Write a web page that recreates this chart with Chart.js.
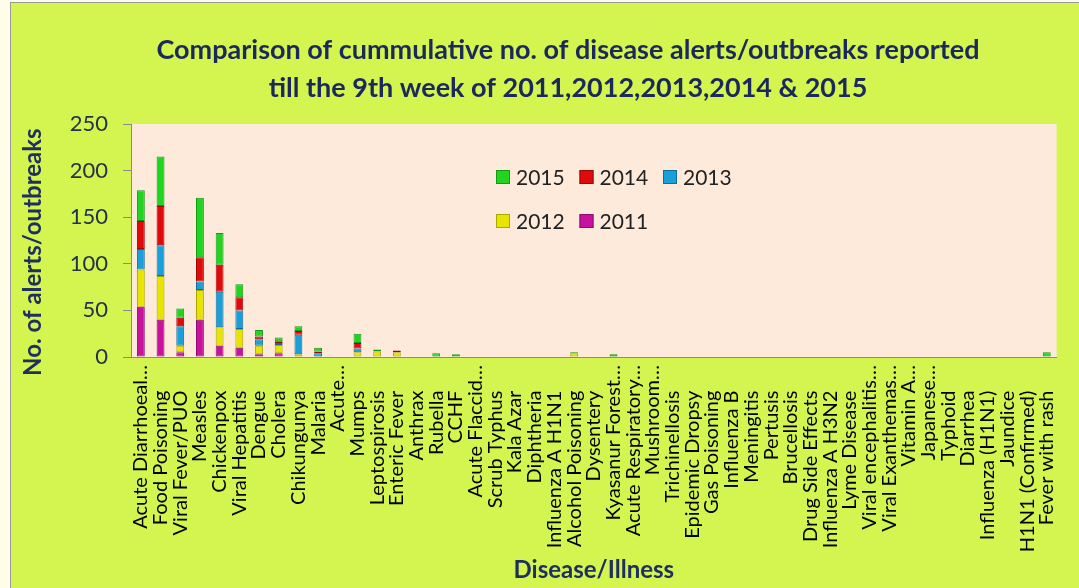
<!DOCTYPE html>
<html>
<head>
<meta charset="utf-8">
<script src="https://cdn.jsdelivr.net/npm/chart.js@4.4.1/dist/chart.umd.min.js"></script>
<style>
html,body{margin:0;padding:0;background:#fffde9;}
#wrap{width:1079px;height:588px;}
</style>
</head>
<body>
<div id="wrap"><canvas id="c" width="1079" height="588"></canvas></div>
<script>
const categories = [
  'Acute Diarrhoeal…','Food Poisoning','Viral Fever/PUO','Measles','Chickenpox','Viral Hepatitis',
  'Dengue','Cholera','Chikungunya','Malaria','Acute…','Mumps','Leptospirosis','Enteric Fever',
  'Anthrax','Rubella','CCHF','Acute Flaccid…','Scrub Typhus','Kala Azar','Diphtheria',
  'Influenza A H1N1','Alcohol Poisoning','Dysentery','Kyasanur Forest…','Acute Respiratory…',
  'Mushroom…','Trichinellosis','Epidemic Dropsy','Gas Poisoning','Influenza B','Meningitis',
  'Pertusis','Brucellosis','Drug Side Effects','Influenza A H3N2','Lyme Disease',
  'Viral encephalitis…','Viral Exanthemas…','Vitamin A…','Japanese…','Typhoid','Diarrhea',
  'Influenza (H1N1)','Jaundice','H1N1 (Confirmed)','Fever with rash'
];
const years = ['2011','2012','2013','2014','2015'];
//                 AD  FP  VF  Me  Ch  VH  De Cho Chk Mal Ac Mu Le EF An Ru CC AF ST KA Di IA AP Dy KF AR Mu Tr ED GP IB Me Pe Br DS H3 Ly VE VX VA Ja Ty Dh IH Ja H1 FR
const v2011 = [54, 40,  5, 40, 12, 10,  3,  4,  0,  0, 0, 0, 0, 0, 0, 0, 0, 0, 0, 0, 0, 0, 0, 0, 0, 0, 0, 0, 0, 0, 0, 0, 0, 0, 0, 0, 0, 0, 0, 0, 0, 0, 0, 0, 0, 0, 0];
const v2012 = [40, 47,  7, 32, 20, 20,  9,  9,  3,  0, 0, 5, 6, 5, 0, 0, 0, 0, 0, 0, 0, 0, 4, 0, 0, 0, 0, 0, 0, 0, 0, 0, 0, 0, 0, 0, 0, 0, 0, 0, 0, 0, 0, 0, 0, 0, 0];
const v2013 = [22, 33, 21,  9, 38, 20,  7,  2, 21,  4, 0, 4, 0, 0, 0, 0, 0, 0, 0, 0, 0, 0, 0, 0, 0, 0, 0, 0, 0, 0, 0, 0, 0, 0, 0, 0, 0, 0, 0, 0, 0, 0, 0, 0, 0, 0, 0];
const v2014 = [30, 42,  9, 26, 29, 14,  3,  2,  4,  2, 0, 6, 0, 2, 0, 0, 0, 0, 0, 0, 0, 0, 0, 0, 0, 0, 0, 0, 0, 0, 0, 0, 0, 0, 0, 0, 0, 0, 0, 0, 0, 0, 0, 0, 0, 0, 0];
const v2015 = [33, 53, 10, 64, 34, 14,  7,  4,  5,  4, 0,10, 2, 0, 0, 4, 3, 0, 0, 0, 0, 0, 1, 0, 3, 0, 0, 0, 0, 0, 0, 0, 0, 0, 0, 0, 0, 0, 0, 0, 0, 0, 0, 0, 0, 0, 5];
const yTicks = [0, 50, 100, 150, 200, 250];
const titleLines = [
  'Comparison of cummulative no. of disease alerts/outbreaks reported',
  'till the 9th week of 2011,2012,2013,2014 & 2015'
];

const fills   = ['#c8129e', '#e6e400', '#1a9fd8', '#e10a0a', '#20d420'];
const borders = ['#8e0c70', '#a8a600', '#0e6f9c', '#9e0606', '#139a13'];
const seriesValues = [v2011, v2012, v2013, v2014, v2015];

const datasets = years.map((y, i) => ({
  label: y,
  data: seriesValues[i],
  backgroundColor: fills[i],
  borderColor: borders[i],
  borderWidth: 1,
  borderSkipped: false,
  categoryPercentage: 0.8,
  barPercentage: 0.5
}));

const bgPlugin = {
  id: 'bg',
  beforeDraw(chart) {
    const ctx = chart.ctx;
    ctx.save();
    ctx.fillStyle = '#fffde9';
    ctx.fillRect(0, 0, chart.width, chart.height);
    ctx.fillStyle = '#d4f450';
    ctx.fillRect(10, 2, chart.width, chart.height);
    ctx.strokeStyle = '#9a9a9a';
    ctx.lineWidth = 1;
    ctx.strokeRect(10.5, 2.5, chart.width + 5, chart.height + 5);
    const a = chart.chartArea;
    ctx.fillStyle = '#fdeadb';
    ctx.fillRect(a.left, a.top, a.right - a.left, a.bottom - a.top);
    ctx.restore();
  }
};

const titlePlugin = {
  id: 'twoLineTitle',
  afterDraw(chart, args, opts) {
    const ctx = chart.ctx;
    ctx.save();
    ctx.fillStyle = opts.color;
    ctx.font = opts.font;
    ctx.textAlign = 'center';
    ctx.textBaseline = 'middle';
    opts.lines.forEach((t, i) => ctx.fillText(t, opts.x, opts.y + i * opts.lineGap));
    ctx.restore();
  }
};

const legendPlugin = {
  id: 'innerLegend',
  afterDatasetsDraw(chart, args, opts) {
    const ctx = chart.ctx;
    const a = chart.chartArea;
    ctx.save();
    ctx.font = opts.font;
    ctx.textBaseline = 'middle';
    ctx.textAlign = 'left';
    const order = chart.data.datasets.map((d, i) => i).reverse();
    order.forEach((di, k) => {
      const ds = chart.data.datasets[di];
      const col = k % opts.perRow, row = Math.floor(k / opts.perRow);
      const x = a.left + opts.offsetX + col * opts.colGap;
      const y = a.top + opts.offsetY + row * opts.rowGap;
      const b = opts.box;
      ctx.fillStyle = ds.backgroundColor;
      ctx.fillRect(x, y - b / 2, b, b);
      ctx.strokeStyle = ds.borderColor;
      ctx.lineWidth = 1;
      ctx.strokeRect(x + 0.5, y - b / 2 + 0.5, b - 1, b - 1);
      ctx.fillStyle = opts.color;
      ctx.fillText(ds.label, x + b + 6, y + 1);
    });
    ctx.restore();
  }
};

new Chart(document.getElementById('c'), {
  type: 'bar',
  data: { labels: categories, datasets: datasets },
  plugins: [bgPlugin, titlePlugin, legendPlugin],
  options: {
    responsive: false,
    animation: false,
    devicePixelRatio: 1,
    layout: { padding: { left: 11, top: 124, right: 21, bottom: 0 } },
    plugins: {
      legend: { display: false },
      tooltip: { enabled: false },
      title: { display: false },
      twoLineTitle: {
        lines: titleLines,
        x: 568, y: 50, lineGap: 38,
        font: 'bold 27px Lato',
        color: '#1a285c'
      },
      innerLegend: {
        offsetX: 365, offsetY: 53, colGap: 83.5, rowGap: 44, perRow: 3, box: 14,
        font: '21px Lato', color: '#222222'
      }
    },
    scales: {
      x: {
        stacked: true,
        afterFit(scale) { scale.height = 231; },
        grid: { display: false, drawTicks: false },
        border: { display: true, color: '#8a8a8a', width: 1 },
        ticks: {
          autoSkip: false,
          minRotation: 90,
          maxRotation: 90,
          padding: 8,
          color: '#000000',
          font: { family: 'Lato', size: 20 },
          callback(value, index) {
            const s = categories[index];
            return s.endsWith('…') ? s : s + '     ';
          }
        },
        title: {
          display: true,
          text: 'Disease/Illness',
          color: '#1f2f60',
          font: { family: 'Lato', size: 24, weight: 'bold' },
          padding: { top: 0, bottom: 3 }
        }
      },
      y: {
        stacked: true,
        min: 0,
        max: 250,
        afterFit(scale) { scale.width = 120; },
        afterBuildTicks(scale) { scale.ticks = yTicks.map(v => ({ value: v })); },
        grid: { drawOnChartArea: false, drawTicks: true, tickLength: 8, color: '#8a8a8a' },
        border: { display: true, color: '#8a8a8a', width: 1 },
        ticks: {
          padding: 15,
          color: '#243349',
          font: { family: 'Lato', size: 22 }
        },
        title: {
          display: true,
          text: 'No. of alerts/outbreaks    ',
          color: '#1f2f60',
          font: { family: 'Lato', size: 24, weight: 'bold' },
          padding: { top: 8, bottom: 0 }
        }
      }
    }
  }
});
</script>
</body>
</html>
